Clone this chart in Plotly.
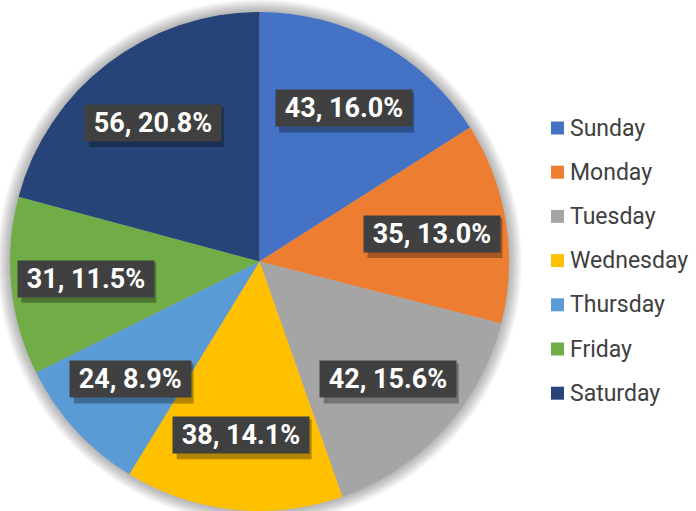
import math
import plotly.graph_objects as go

days = ["Sunday", "Monday", "Tuesday", "Wednesday", "Thursday", "Friday", "Saturday"]
counts = [43, 35, 42, 38, 24, 31, 56]
colors = ["#4472C4", "#ED7D31", "#A5A5A5", "#FFC000", "#5B9BD5", "#70AD47", "#264478"]

W, H = 696, 511
CX, CY, R = 259.5, 261.5, 249.5  # pixel geometry of pie (top-left origin)
FS = 27  # data label font size

def px(x):
    return x / W

def py(y):
    return 1 - y / H

# approximate Roboto Bold advance widths (em) for shadow sizing
CW = {",": 0.22, " ": 0.25, ".": 0.27, "%": 0.73}

def text_w(s):
    return sum(CW.get(ch, 0.5615) for ch in s) * FS

fig = go.Figure()
fig.add_trace(go.Pie(
    values=counts, labels=days, sort=False, direction="clockwise", rotation=0,
    marker=dict(colors=colors, line=dict(width=0)),
    textinfo="none", showlegend=False, hoverinfo="label+value+percent",
    domain=dict(x=[px(CX - R), px(CX + R)], y=[py(CY + R), py(CY - R)]),
))

shapes = []
# soft glow around the pie
for i in range(1, 14):
    r = R + i
    shapes.append(dict(type="circle", xref="paper", yref="paper", layer="below",
                       x0=px(CX - r), x1=px(CX + r), y0=py(CY + r), y1=py(CY - r),
                       fillcolor="rgba(0,0,0,0.022)", line=dict(width=0)))

annotations = []
total = sum(counts)
cum = 0
for d, v in zip(days, counts):
    mid = (cum + v / 2) / total * 2 * math.pi
    cum += v
    rr = 0.70 * R
    x = CX + rr * math.sin(mid)
    y = CY - rr * math.cos(mid)
    s = f"{v}, {v / total * 100:.1f}%"
    bw = text_w(s) + 2 * 0.25 * FS + 6
    bh = 40
    # drop shadow of the label box
    shapes.append(dict(type="rect", xref="paper", yref="paper", layer="above",
                       x0=px(x - bw / 2 + 3), x1=px(x + bw / 2 + 3),
                       y0=py(y + bh / 2 + 4), y1=py(y - bh / 2 + 4),
                       fillcolor="rgba(0,0,0,0.3)", line=dict(width=0)))
    annotations.append(dict(x=px(x), y=py(y), xref="paper", yref="paper",
                            xanchor="center", yanchor="middle",
                            text=f"&nbsp;<b>{s}</b>&nbsp;", showarrow=False, borderpad=2,
                            font=dict(family="Roboto", size=FS, color="white"),
                            bgcolor="#404040"))

# legend
for i, (d, c) in enumerate(zip(days, colors)):
    ly = 128 + i * 44.2
    shapes.append(dict(type="rect", xref="paper", yref="paper",
                       x0=px(551), x1=px(564), y0=py(ly + 6.5), y1=py(ly - 6.5),
                       fillcolor=c, line=dict(width=0)))
    annotations.append(dict(x=px(568), y=py(ly), xref="paper", yref="paper",
                            xanchor="left", yanchor="middle",
                            text=d, showarrow=False, font=dict(family="Roboto", size=23, color="#404040")))

fig.update_layout(width=W, height=H, margin=dict(l=0, r=0, t=0, b=0),
                  paper_bgcolor="white", plot_bgcolor="white",
                  shapes=shapes, annotations=annotations, showlegend=False)
fig.write_html("out.html", config={"displayModeBar": False},
               post_script="document.body.style.margin='0';document.body.style.overflow='hidden';")
